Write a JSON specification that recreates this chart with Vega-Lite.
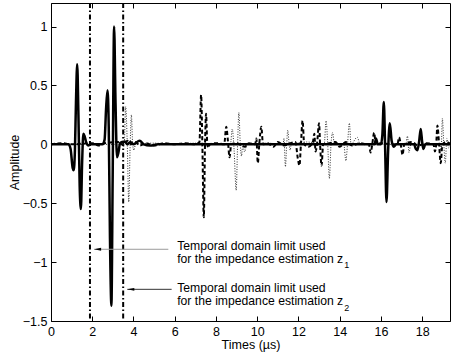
{
  "$schema": "https://vega.github.io/schema/vega-lite/v6.json",
  "width": 399,
  "height": 318,
  "autosize": {"type": "none"},
  "padding": {"left": 51, "top": 3, "right": 1, "bottom": 34},
  "background": "white",
  "config": {
    "view": {"stroke": "black", "strokeWidth": 1},
    "axis": {
      "labelFont": "Liberation Sans", "titleFont": "Liberation Sans",
      "labelFontSize": 12.5, "titleFontSize": 12.5, "titleFontWeight": "normal",
      "labelColor": "black", "titleColor": "black", "tickColor": "black",
      "domain": false, "grid": false, "tickSize": 5, "offset": -5,
      "labelFlush": false, "labelOverlap": false
    }
  },
  "datasets": {
    "solid": [
      {"t":0,"a":0},{"t":0.85,"a":0},{"t":0.95,"a":-0.04},{"t":1.05,"a":-0.2},{"t":1.1,"a":-0.22},{"t":1.16,"a":-0.05},{"t":1.21,"a":0.35},{"t":1.27,"a":0.68},{"t":1.33,"a":0.25},{"t":1.39,"a":-0.35},{"t":1.45,"a":-0.55},{"t":1.51,"a":-0.15},{"t":1.57,"a":0.09},{"t":1.63,"a":0.07},{"t":1.7,"a":0.02},{"t":1.8,"a":-0.01},{"t":1.95,"a":0},{"t":2.5,"a":0},{"t":2.6,"a":0.04},{"t":2.67,"a":0.3},{"t":2.74,"a":0.46},{"t":2.8,"a":0.15},{"t":2.86,"a":-0.8},{"t":2.93,"a":-1.37},{"t":2.99,"a":-0.3},{"t":3.06,"a":1.0},{"t":3.13,"a":0.35},{"t":3.2,"a":-0.11},{"t":3.27,"a":-0.07},{"t":3.35,"a":0.01},{"t":3.45,"a":0.02},{"t":3.58,"a":0.025},{"t":3.7,"a":0.0},{"t":3.85,"a":0.02},{"t":4.0,"a":0.0},{"t":4.3,"a":0.03},{"t":4.5,"a":0.0},{"t":4.8,"a":-0.01},{"t":5.2,"a":0},{"t":15.7,"a":0},{"t":15.76,"a":0.05},{"t":15.85,"a":0},{"t":16.0,"a":0},{"t":16.07,"a":0.08},{"t":16.14,"a":0.36},{"t":16.2,"a":0.0},{"t":16.27,"a":-0.49},{"t":16.35,"a":-0.05},{"t":16.43,"a":0.18},{"t":16.52,"a":0.03},{"t":16.62,"a":-0.02},{"t":16.75,"a":0},{"t":17.6,"a":0},{"t":17.7,"a":-0.04},{"t":17.77,"a":-0.05},{"t":17.85,"a":0.02},{"t":17.93,"a":0.13},{"t":18.0,"a":0.02},{"t":18.06,"a":-0.04},{"t":18.15,"a":0},{"t":19.4,"a":0}
    ],
    "dashed": [
      {"t":0,"a":0},{"t":0.5,"a":0.01},{"t":1.0,"a":0},{"t":2.0,"a":0.01},{"t":2.3,"a":-0.01},{"t":2.6,"a":0.01},{"t":3.3,"a":0.02},{"t":3.5,"a":-0.01},{"t":3.7,"a":0.03},{"t":3.9,"a":0.0},{"t":4.1,"a":0.02},{"t":4.3,"a":-0.01},{"t":4.6,"a":0.01},{"t":5.0,"a":-0.01},{"t":5.5,"a":0.01},{"t":6.0,"a":0},{"t":6.5,"a":0.01},{"t":7.0,"a":0},{"t":7.2,"a":0.02},{"t":7.28,"a":0.42},{"t":7.34,"a":0},{"t":7.41,"a":-0.62},{"t":7.47,"a":0},{"t":7.52,"a":0.26},{"t":7.58,"a":0},{"t":7.63,"a":-0.03},{"t":7.7,"a":0},{"t":8.0,"a":0.01},{"t":8.4,"a":0},{"t":8.5,"a":0.15},{"t":8.58,"a":0.03},{"t":8.66,"a":-0.11},{"t":8.74,"a":0},{"t":9.0,"a":0.01},{"t":9.4,"a":-0.02},{"t":9.6,"a":0.01},{"t":9.9,"a":0},{"t":9.96,"a":0.05},{"t":10.03,"a":-0.16},{"t":10.1,"a":0},{"t":10.2,"a":0.15},{"t":10.28,"a":0},{"t":10.5,"a":0.01},{"t":10.8,"a":-0.02},{"t":11.0,"a":0.02},{"t":11.3,"a":-0.01},{"t":11.6,"a":0.01},{"t":11.85,"a":0.02},{"t":11.97,"a":-0.12},{"t":12.05,"a":-0.18},{"t":12.12,"a":0.0},{"t":12.2,"a":0.2},{"t":12.28,"a":0},{"t":12.5,"a":-0.02},{"t":12.7,"a":0.02},{"t":12.77,"a":0.09},{"t":12.83,"a":-0.06},{"t":12.9,"a":0.0},{"t":13.0,"a":0.18},{"t":13.05,"a":0},{"t":13.12,"a":-0.18},{"t":13.2,"a":0},{"t":13.5,"a":0.01},{"t":13.8,"a":0.02},{"t":14.0,"a":-0.02},{"t":14.3,"a":0.02},{"t":14.6,"a":-0.01},{"t":15.0,"a":0.01},{"t":15.3,"a":0},{"t":15.42,"a":0},{"t":15.5,"a":-0.07},{"t":15.58,"a":0},{"t":15.67,"a":0.1},{"t":15.75,"a":0},{"t":16.0,"a":0.01},{"t":16.5,"a":0},{"t":16.8,"a":0},{"t":16.88,"a":0.06},{"t":16.96,"a":0},{"t":17.05,"a":-0.09},{"t":17.13,"a":0},{"t":17.5,"a":0.02},{"t":17.8,"a":-0.01},{"t":18.2,"a":0.01},{"t":18.55,"a":0},{"t":18.62,"a":-0.06},{"t":18.68,"a":0},{"t":18.74,"a":0.16},{"t":18.82,"a":0},{"t":18.9,"a":-0.16},{"t":18.98,"a":0},{"t":19.15,"a":0.02},{"t":19.4,"a":0}
    ],
    "dotted": [
      {"t":0,"a":0},{"t":3.55,"a":0},{"t":3.62,"a":0.32},{"t":3.7,"a":0},{"t":3.77,"a":-0.49},{"t":3.84,"a":0},{"t":3.9,"a":0.25},{"t":3.96,"a":0},{"t":4.02,"a":-0.05},{"t":4.1,"a":0},{"t":5.0,"a":0.01},{"t":6.0,"a":0},{"t":7.0,"a":0.01},{"t":8.0,"a":0},{"t":8.7,"a":0},{"t":8.79,"a":0.13},{"t":8.88,"a":-0.05},{"t":8.98,"a":-0.39},{"t":9.05,"a":0.0},{"t":9.11,"a":0.27},{"t":9.18,"a":0.0},{"t":9.24,"a":-0.1},{"t":9.3,"a":0},{"t":9.39,"a":-0.065},{"t":9.5,"a":0},{"t":10.5,"a":0.01},{"t":11.25,"a":0},{"t":11.3,"a":0.05},{"t":11.37,"a":-0.19},{"t":11.43,"a":0.0},{"t":11.48,"a":0.12},{"t":11.55,"a":0},{"t":11.6,"a":-0.05},{"t":11.65,"a":0},{"t":12.4,"a":0.02},{"t":13.25,"a":0},{"t":13.34,"a":0.2},{"t":13.42,"a":0.0},{"t":13.5,"a":-0.29},{"t":13.58,"a":0},{"t":13.66,"a":0.1},{"t":13.74,"a":0},{"t":14.2,"a":0},{"t":14.3,"a":-0.14},{"t":14.38,"a":0},{"t":14.47,"a":0.18},{"t":14.55,"a":0},{"t":14.85,"a":0.06},{"t":15.0,"a":0},{"t":17.2,"a":0},{"t":17.29,"a":0.07},{"t":17.36,"a":-0.07},{"t":17.45,"a":0},{"t":18.85,"a":0},{"t":18.92,"a":-0.06},{"t":18.98,"a":0.22},{"t":19.05,"a":0},{"t":19.12,"a":-0.16},{"t":19.2,"a":0.05},{"t":19.28,"a":-0.03},{"t":19.4,"a":0}
    ],
    "vlines": [{"t":1.89},{"t":3.5}],
    "arrows": [
      {"x1":2.09,"x2":5.69,"a":-0.891,"c":"z1"},
      {"x1":3.70,"x2":5.85,"a":-1.231,"c":"z2"}
    ],
    "labels": [
      {"t":6.12,"a":-0.866,"txt":"Temporal domain limit used"},
      {"t":6.12,"a":-0.975,"txt":"for the impedance estimation z"},
      {"t":6.12,"a":-1.218,"txt":"Temporal domain limit used"},
      {"t":6.12,"a":-1.327,"txt":"for the impedance estimation z"}
    ],
    "subs": [
      {"t":14.22,"a":-1.027,"txt":"1"},
      {"t":14.22,"a":-1.386,"txt":"2"}
    ]
  },
  "layer": [
    {
      "data": {"name": "vlines"},
      "mark": {"type": "rule", "color": "black", "strokeWidth": 2, "strokeDash": [5, 2.5, 1.5, 2.5]},
      "encoding": {
        "x": {"field": "t", "type": "quantitative", "scale": {"domain": [0, 19.35], "nice": false, "zero": false}, "axis": null}
      }
    },
    {
      "data": {"name": "dotted"},
      "mark": {"type": "line", "color": "#333333", "strokeWidth": 1, "strokeDash": [1, 1.5], "interpolate": "monotone"},
      "encoding": {
        "x": {"field": "t", "type": "quantitative", "scale": {"domain": [0, 19.35], "nice": false, "zero": false},
              "axis": {"orient": "top", "labels": false, "title": null, "values": [0,2,4,6,8,10,12,14,16,18]}},
        "y": {"field": "a", "type": "quantitative", "scale": {"domain": [-1.5, 1.2], "nice": false, "zero": false},
              "axis": {"orient": "right", "labels": false, "title": null, "values": [-1.5,-1,-0.5,0,0.5,1]}}
      }
    },
    {
      "data": {"name": "dashed"},
      "mark": {"type": "line", "color": "black", "strokeWidth": 2, "strokeDash": [4, 2.5], "interpolate": "monotone"},
      "encoding": {
        "x": {"field": "t", "type": "quantitative", "scale": {"domain": [0, 19.35], "nice": false, "zero": false}, "axis": null},
        "y": {"field": "a", "type": "quantitative", "scale": {"domain": [-1.5, 1.2], "nice": false, "zero": false}, "axis": null}
      }
    },
    {
      "data": {"name": "solid"},
      "mark": {"type": "line", "color": "black", "strokeWidth": 2.5, "interpolate": "monotone"},
      "encoding": {
        "x": {"field": "t", "type": "quantitative", "scale": {"domain": [0, 19.35], "nice": false, "zero": false},
              "axis": {"orient": "bottom", "title": "Times (µs)", "values": [0,2,4,6,8,10,12,14,16,18], "labelPadding": 4, "titlePadding": 1}},
        "y": {"field": "a", "type": "quantitative", "scale": {"domain": [-1.5, 1.2], "nice": false, "zero": false},
              "axis": {"orient": "left", "title": "Amplitude", "values": [-1.5,-1,-0.5,0,0.5,1], "format": "~g", "labelPadding": 4, "titlePadding": 1}}
      }
    },
    {
      "data": {"name": "arrows"},
      "mark": {"type": "rule", "strokeWidth": 1},
      "encoding": {
        "x": {"field": "x1", "type": "quantitative", "scale": {"domain": [0, 19.35], "nice": false, "zero": false}, "axis": null},
        "x2": {"field": "x2"},
        "y": {"field": "a", "type": "quantitative", "scale": {"domain": [-1.5, 1.2], "nice": false, "zero": false}, "axis": null},
        "color": {"field": "c", "type": "nominal", "scale": {"domain": ["z1", "z2"], "range": ["#9a9a9a", "#333333"]}, "legend": null}
      }
    },
    {
      "data": {"name": "arrows"},
      "mark": {"type": "point", "shape": "M-1,0L1,-0.4L1,0.4Z", "filled": true, "color": "black", "opacity": 1, "size": 50, "xOffset": 3.5},
      "encoding": {
        "x": {"field": "x1", "type": "quantitative", "scale": {"domain": [0, 19.35], "nice": false, "zero": false}, "axis": null},
        "y": {"field": "a", "type": "quantitative", "scale": {"domain": [-1.5, 1.2], "nice": false, "zero": false}, "axis": null}
      }
    },
    {
      "data": {"name": "labels"},
      "mark": {"type": "text", "align": "left", "baseline": "middle", "font": "Liberation Sans", "fontSize": 12.2, "color": "black"},
      "encoding": {
        "x": {"field": "t", "type": "quantitative", "scale": {"domain": [0, 19.35], "nice": false, "zero": false}, "axis": null},
        "y": {"field": "a", "type": "quantitative", "scale": {"domain": [-1.5, 1.2], "nice": false, "zero": false}, "axis": null},
        "text": {"field": "txt"}
      }
    },
    {
      "data": {"name": "subs"},
      "mark": {"type": "text", "align": "left", "baseline": "middle", "font": "Liberation Sans", "fontSize": 9, "color": "black"},
      "encoding": {
        "x": {"field": "t", "type": "quantitative", "scale": {"domain": [0, 19.35], "nice": false, "zero": false}, "axis": null},
        "y": {"field": "a", "type": "quantitative", "scale": {"domain": [-1.5, 1.2], "nice": false, "zero": false}, "axis": null},
        "text": {"field": "txt"}
      }
    }
  ],
  "resolve": {"axis": {"x": "independent", "y": "independent"}}
}
